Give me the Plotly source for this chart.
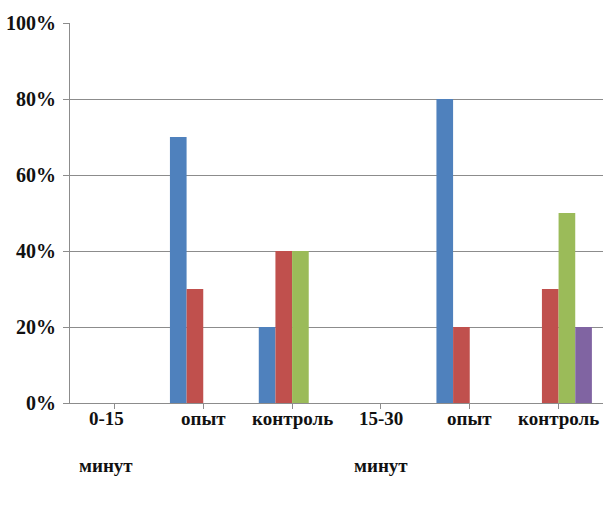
import plotly.graph_objects as go

# Categories along the x axis (two time windows, each with experiment / control)
categories = ["0-15 минут", "опыт", "контроль", "15-30 минут", "опыт", "контроль"]

# Share of animals per response group, percent
series_1 = [None, 70, 20, None, 80, None]
series_2 = [None, 30, 40, None, 20, 30]
series_3 = [None, None, 40, None, None, 50]
series_4 = [None, None, None, None, None, 20]

series_names = ["Ряд 1", "Ряд 2", "Ряд 3", "Ряд 4"]
series_colors = ["#4F81BD", "#C0504D", "#9BBB59", "#8064A2"]

y_ticks = [0, 20, 40, 60, 80, 100]

fig = go.Figure()
x_idx = list(range(len(categories)))
for name, vals, color in zip(series_names, [series_1, series_2, series_3, series_4], series_colors):
    fig.add_trace(go.Bar(x=x_idx, y=vals, name=name, marker=dict(color=color, line=dict(width=0))))

font_family = "Liberation Serif"
axis_grey = "#8c8c8c"

# Category labels are wrapped onto widely spaced lines, drawn as annotations
for i, label in enumerate(categories):
    words = label.split(" ")
    for k, word in enumerate(words):
        fig.add_annotation(
            x=i, y=0, xref="x", yref="y",
            text=f"<b>{word}</b>",
            showarrow=False,
            xanchor="center", yanchor="middle",
            yshift=-15 - 47 * k,
            xshift=-8 if i == 0 else 0,
            font=dict(family=font_family, size=19, color="#111111"),
        )

fig.update_layout(
    width=615,
    height=505,
    margin=dict(l=70, r=12, t=23, b=102),
    paper_bgcolor="white",
    plot_bgcolor="white",
    barmode="group",
    bargap=0.25,
    bargroupgap=0,
    showlegend=False,
    font=dict(family=font_family, color="#111111"),
)

fig.update_xaxes(
    tickmode="array",
    tickvals=x_idx,
    showticklabels=False,
    range=[-0.5, len(categories) - 0.5],
    showline=True,
    linecolor=axis_grey,
    linewidth=1,
    ticks="outside",
    tickson="boundaries",
    ticklen=5,
    tickcolor=axis_grey,
    showgrid=False,
    automargin=False,
)

fig.update_yaxes(
    range=[0, 100],
    tickmode="array",
    tickvals=y_ticks,
    ticktext=[f"<b>{v}%</b>" for v in y_ticks],
    showline=True,
    linecolor=axis_grey,
    linewidth=1,
    ticks="outside",
    ticklen=6,
    tickcolor=axis_grey,
    ticklabelstandoff=3,
    showgrid=True,
    gridcolor=axis_grey,
    gridwidth=1,
    zeroline=False,
    automargin=False,
    tickfont=dict(family=font_family, size=20, color="#111111"),
)

fig.write_html("out.html")
